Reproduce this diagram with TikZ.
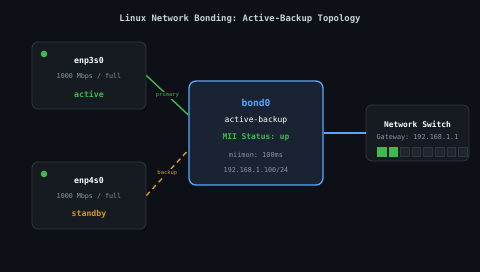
\documentclass[tikz,border=0pt]{standalone}
\usepackage{fontspec}
\setmonofont{DejaVu Sans Mono}
\usetikzlibrary{positioning}
\definecolor{bgdark}{HTML}{0D1117}
\definecolor{boxfill}{HTML}{161B22}
\definecolor{boxline}{HTML}{30363D}
\definecolor{bondfill}{HTML}{1A2332}
\definecolor{bondblue}{HTML}{58A6FF}
\definecolor{okgreen}{HTML}{3FB950}
\definecolor{warnorange}{HTML}{D29922}
\definecolor{mutedgray}{HTML}{8B949E}
\definecolor{titlegray}{HTML}{C9D1D9}
\definecolor{portoff}{HTML}{21262D}
\tikzset{
    nic/.style={draw=boxline, fill=boxfill, rounded corners=6pt, line width=0.8pt, minimum width=114pt, minimum height=67pt},
    bondbox/.style={draw=bondblue, fill=bondfill, rounded corners=7pt, line width=1.3pt, minimum width=134pt, minimum height=104pt},
    switchbox/.style={draw=boxline, fill=boxfill, rounded corners=6pt, line width=0.8pt, minimum width=103pt, minimum height=56pt},
    txt/.style={font=\ttfamily\fontsize{#1}{#1}\selectfont, inner sep=0pt},
    head/.style={txt=8.2, text=white, font=\ttfamily\bfseries\fontsize{8.2}{8.2}\selectfont},
    sub/.style={txt=6.7, text=mutedgray},
    link/.style={line width=1.4pt},
    linklabel/.style={font=\ttfamily\fontsize{5.5}{5.5}\selectfont, fill=bgdark, inner sep=1pt},
    port/.style={minimum size=8.5pt, inner sep=0pt, draw=boxline, line width=0.4pt}
}
\begin{document}
\begin{tikzpicture}[x=1pt, y=-1pt]
    \useasboundingbox[fill=bgdark] (0,0) rectangle (480,272);
    % title
    \node[txt=8.9, text=titlegray, font=\ttfamily\bfseries\fontsize{8.9}{8.9}\selectfont] (title) at (240,19) {Linux Network Bonding: Active-Backup Topology};
    % interfaces
    \node[nic] (enp3) at (89,75.5) {};
    \node[nic] (enp4) at (89,195.5) {};
    \fill[okgreen] (44,54) circle (3.3pt);
    \fill[okgreen] (44,174) circle (3.3pt);
    \node[head] (enp3name) at (89,61) {enp3s0};
    \node[sub] (enp3speed) at (89,77) {1000 Mbps / full};
    \node[head, text=okgreen] (enp3state) at (89,94) {active};
    \node[head] (enp4name) at (89,181) {enp4s0};
    \node[sub] (enp4speed) at (89,197) {1000 Mbps / full};
    \node[head, text=warnorange] (enp4state) at (89,214) {standby};
    % bond
    \node[bondbox] (bond) at (256,133) {};
    \node[head, text=bondblue, font=\ttfamily\bfseries\fontsize{9.6}{9.6}\selectfont] (bondname) at (256,103) {bond0};
    \node[txt=8, text=white] (bondmode) at (256,120) {active-backup};
    \node[head, text=okgreen, font=\ttfamily\bfseries\fontsize{7.9}{7.9}\selectfont] (bondmii) at (256,137) {MII Status: up};
    \node[sub, txt=6.9] (bondmiimon) at (256,155) {miimon: 100ms};
    \node[sub] (bondip) at (256,170) {192.168.1.100/24};
    % switch
    \node[switchbox] (switch) at (417.5,133) {};
    \node[head, font=\ttfamily\bfseries\fontsize{7.9}{7.9}\selectfont] (switchname) at (417.5,124) {Network Switch};
    \node[sub, txt=6.8] (gateway) at (417.5,138) {Gateway: 192.168.1.1};
    \foreach \i in {0,...,7}
    {
        \pgfmathsetmacro{\px}{381.5+11.6*\i}
        \ifnum\i<2
            \node[port, fill=okgreen, draw=okgreen] (port\i) at (\px,151.5) {};
        \else
            \node[port, fill=portoff] (port\i) at (\px,151.5) {};
        \fi
    }
    % links
    \draw[link, okgreen] (enp3.east) -- node[linklabel, text=okgreen] {primary} ([yshift=18pt]bond.west);
    \draw[link, warnorange, dash pattern=on 5pt off 4pt] (enp4.east) -- node[linklabel, text=warnorange] {backup} ([yshift=-17pt]bond.west);
    \draw[link, bondblue] (bond.east) -- (switch.west);
\end{tikzpicture}
\end{document}
